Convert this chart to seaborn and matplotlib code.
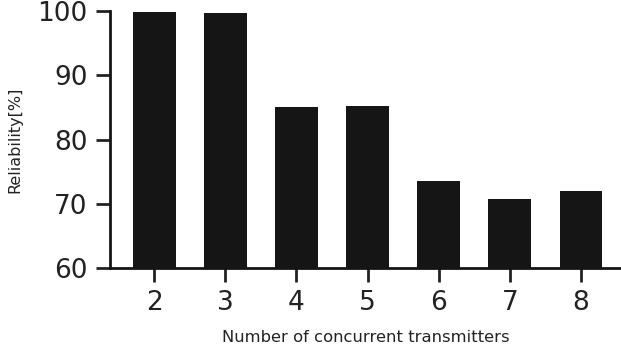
import matplotlib
matplotlib.use("Agg")
import matplotlib.pyplot as plt
import seaborn as sns
import pandas as pd

transmitters = ["2", "3", "4", "5", "6", "7", "8"]
reliability = [99.9, 99.7, 85.1, 85.3, 73.5, 70.8, 72.0]
y_ticks = [60, 70, 80, 90, 100]

sns.set_theme(style="ticks")
plt.rcParams['font.family'] = ['DejaVu Sans']
plt.rcParams['text.color'] = '#222222'
plt.rcParams['axes.labelcolor'] = '#222222'
plt.rcParams['xtick.color'] = '#222222'
plt.rcParams['ytick.color'] = '#222222'

df = pd.DataFrame({"n": transmitters, "rel": reliability})

fig = plt.figure(figsize=(6.21, 3.53), dpi=100)
ax = fig.add_axes([110/621, (353-268)/353, (621-110)/621, (268-11.3)/353])
sns.barplot(data=df, x="n", y="rel", color="#151515", saturation=1, width=0.6,
            linewidth=0, ax=ax)
ax.set_ylim(60, 100)
ax.set_xlim(-0.623, 6.564)
ax.set_yticks(y_ticks)
ax.set_xlabel("Number of concurrent transmitters", fontsize=11.8, labelpad=10)
ax.set_ylabel("Reliability[%]", fontsize=11.5, labelpad=11)
ax.tick_params(axis="both", labelsize=19, length=10, width=2, pad=6)
for s in ["top", "right"]:
    ax.spines[s].set_visible(False)
for s in ["left", "bottom"]:
    ax.spines[s].set_linewidth(2)
    ax.spines[s].set_color('#151515')
fig.savefig("out.png", dpi=100)
